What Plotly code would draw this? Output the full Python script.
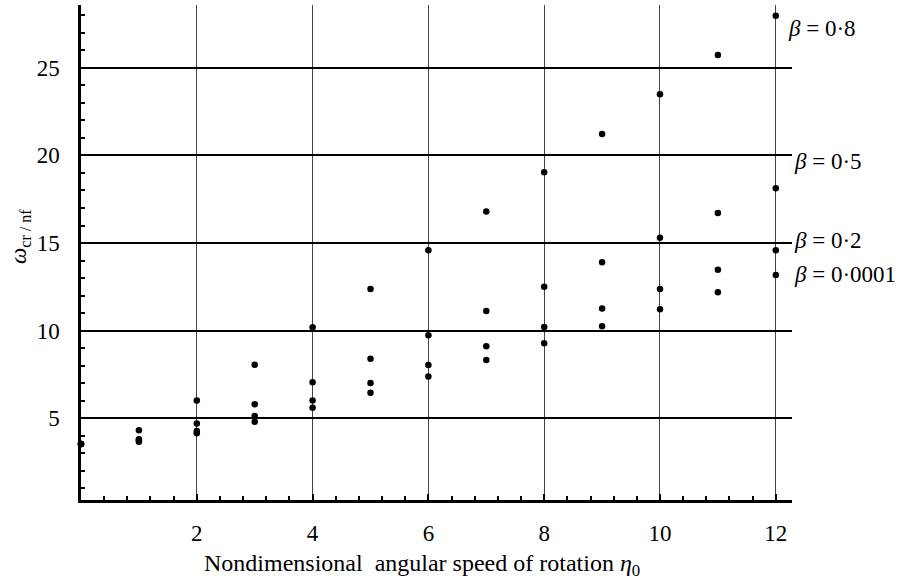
import plotly.graph_objects as go

eta = [0, 1, 2, 3, 4, 5, 6, 7, 8, 9, 10, 11, 12]
beta_08 = [3.54, 4.32, 6.01, 8.05, 10.19, 12.38, 14.59, 16.80, 19.04, 21.22, 23.49, 25.73, 27.97]
beta_05 = [3.54, 3.80, 4.70, 5.80, 7.06, 8.40, 9.74, 11.12, 12.51, 13.90, 15.30, 16.71, 18.12]
beta_02 = [3.54, 3.75, 4.28, 5.13, 6.01, 7.02, 8.04, 9.11, 10.21, 11.27, 12.38, 13.48, 14.59]
beta_00001 = [3.54, 3.67, 4.15, 4.81, 5.61, 6.46, 7.38, 8.33, 9.28, 10.25, 11.22, 12.19, 13.18]

series = [("β = 0·8", beta_08), ("β = 0·5", beta_05), ("β = 0·2", beta_02), ("β = 0·0001", beta_00001)]
label_text = ["<i>β</i> = 0·8", "<i>β</i> = 0·5", "<i>β</i> = 0·2", "<i>β</i> = 0·0001"]
label_y = [27.25, 19.64, 15.12, 13.18]
label_x = [0.9916, 0.9996, 0.9996, 0.9996]

x_ticks = [2, 4, 6, 8, 10, 12]
y_ticks = [5, 10, 15, 20, 25]

FONT = "Liberation Serif"
FS = 23

fig = go.Figure()
for name, vals in series:
    fig.add_trace(go.Scatter(x=eta, y=vals, mode="markers", name=name,
                             marker=dict(color="black", size=6.5),
                             cliponaxis=False, showlegend=False))

for t, yy, xx in zip(label_text, label_y, label_x):
    fig.add_annotation(text=t, xref="paper", yref="y", x=xx, y=yy,
                       xanchor="left", yanchor="middle", showarrow=False,
                       font=dict(family=FONT, size=FS, color="black"))

fig.add_annotation(text="Nondimensional&nbsp; angular speed of rotation <i>η</i><sub>0</sub>",
                   xref="paper", yref="paper", x=(422 - 81) / 711, y=-(565 - 500) / 495,
                   xanchor="center", yanchor="middle", showarrow=False,
                   font=dict(family=FONT, size=24, color="black"))
fig.add_annotation(text="<i>ω</i><sub>cr / nf</sub>", textangle=-90,
                   xref="paper", yref="paper", x=-(81 - 20) / 711, y=(500 - 237) / 495,
                   xanchor="center", yanchor="middle", showarrow=False,
                   font=dict(family=FONT, size=FS, color="black"))

fig.update_layout(
    width=905, height=583,
    margin=dict(l=81, r=113, t=5, b=83),
    plot_bgcolor="white", paper_bgcolor="white",
    font=dict(family=FONT, size=FS, color="black"),
    xaxis=dict(range=[0, 12.28], tickvals=x_ticks, ticktext=[str(v) for v in x_ticks],
               tickfont=dict(family=FONT, size=FS, color="black"),
               showgrid=True, gridcolor="#444444", gridwidth=1.3,
               showline=True, linecolor="black", linewidth=2.5,
               ticks="inside", ticklen=6, tickcolor="black", tickwidth=1.5,
               minor=dict(dtick=0.4, tick0=0, ticks="inside", ticklen=4, tickcolor="black", showgrid=False),
               zeroline=False, ticklabelstandoff=11),
    yaxis=dict(range=[0.34, 28.58], tickvals=y_ticks, ticktext=[str(v) for v in y_ticks],
               tickfont=dict(family=FONT, size=FS, color="black"),
               showgrid=True, gridcolor="black", gridwidth=1.5,
               showline=True, linecolor="black", linewidth=2.5,
               ticks="inside", ticklen=6, tickcolor="black", tickwidth=1.5,
               minor=dict(dtick=1, tick0=0, ticks="inside", ticklen=4, tickcolor="black", showgrid=False),
               zeroline=False, ticklabelstandoff=14),
)

fig.write_html("out.html")
